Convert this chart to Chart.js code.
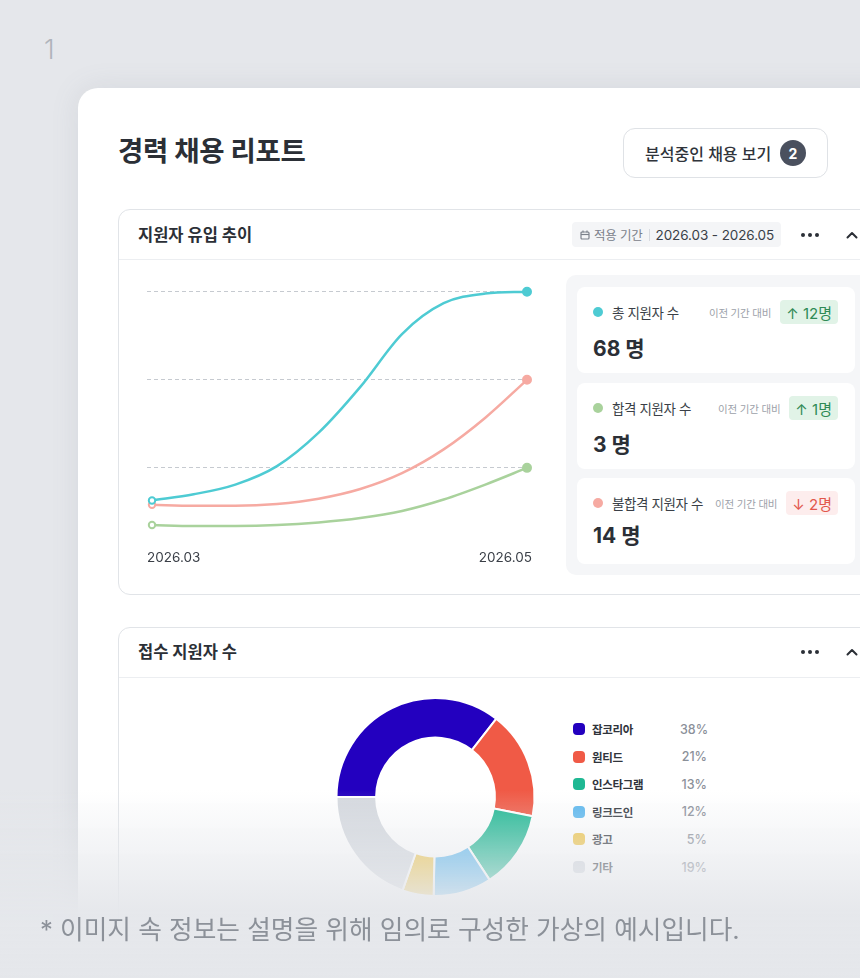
<!DOCTYPE html>
<html><head><meta charset="utf-8">
<script src="https://cdn.jsdelivr.net/npm/chart.js@4.4.1/dist/chart.umd.min.js"></script>
<style>
*{box-sizing:border-box;margin:0;padding:0}
html,body{width:860px;height:978px;overflow:hidden;background:#e5e7eb;font-family:Inter,"Noto Sans CJK KR",sans-serif;color:#2f333a}
.a{position:absolute}
#num{left:44px;top:34px;font-size:27px;line-height:32px;color:#b0b4bb;font-weight:300}
#card{left:78px;top:88px;width:830px;height:960px;background:#fff;border-radius:20px;box-shadow:0 0 28px rgba(110,118,130,0.13)}
#title{left:118px;top:134px;font-size:27.5px;line-height:34px;font-weight:700;letter-spacing:-0.3px;color:#2b2f36}
#btn{left:623px;top:128px;width:205px;height:50px;border:1px solid #dfe2e6;border-radius:12px;display:flex;align-items:center;padding-left:21px}
#btn span.t{font-size:16px;font-weight:500;color:#30343b;letter-spacing:0}
#btn span.b{position:absolute;left:156px;top:11px;width:26px;height:26px;border-radius:13px;background:#4a505e;color:#fff;font-size:14px;font-weight:700;display:flex;align-items:center;justify-content:center}
.panel{border:1px solid #e1e4e8;border-radius:12px;background:#fff}
.ptitle{font-size:16.5px;line-height:20px;font-weight:700;letter-spacing:0;color:#2b2f36}
.div{height:1px;background:#eceef1}
.dots{width:20px;height:4px}
.dots i{position:absolute;top:0;width:4px;height:4px;border-radius:2px;background:#2b2f36}
#chip{left:572px;top:222px;width:209px;height:25px;background:#f4f5f7;border-radius:4px;display:flex;align-items:center;padding-left:8px;white-space:nowrap}
#chip .k{font-size:12.5px;color:#7b818b;margin-left:4px;letter-spacing:-0.2px}
#chip .s{width:1px;height:12px;background:#d7dae0;margin:0 6px 0 6px}
#chip .v{font-size:13.5px;color:#3a3f47;letter-spacing:-0.1px}
#stats{left:566px;top:275px;width:320px;height:300px;background:#f5f6f8;border-radius:10px}
.sc{left:577px;width:278px;height:86px;background:#fff;border-radius:8px}
.sc .row{position:absolute;left:15px;right:17px;top:13px;height:24px;display:flex;align-items:center;white-space:nowrap}
.sc .dot{width:10px;height:10px;border-radius:5px;margin-left:1px;margin-right:9px}
.sc .lab{font-size:13.5px;color:#3a3f47;letter-spacing:-0.4px}
.sc .cmp{margin-left:auto;font-size:10.5px;color:#9ca1a9;letter-spacing:-0.2px;margin-right:9px}
.sc .bd{height:24px;border-radius:4px;padding:0 6px;display:flex;align-items:center;font-size:15px;font-weight:400}
.sc .bd.up{background:#e1f3e7;color:#2f8a55}
.sc .bd.dn{background:#fdeded;color:#e2574b}
.sc .val{position:absolute;left:16px;top:49px;font-size:21px;line-height:26px;font-weight:700;color:#2b2f36}
.lg{left:573px;height:20px;display:flex;align-items:center;white-space:nowrap}
.lg .sq{width:12px;height:12px;border-radius:4px;margin-right:7px}
.lg .n{font-size:11.5px;font-weight:700;color:#30343b;width:88px;letter-spacing:-0.3px}
.lg .p{font-size:12.5px;font-weight:500;color:#8b9099;width:27px;text-align:right}
#fade{left:0;top:790px;width:860px;height:188px;z-index:10;background:linear-gradient(to bottom,rgba(229,231,235,0) 0%,rgba(229,231,235,0.72) 48%,rgba(229,231,235,0.96) 64%,rgba(229,231,235,1) 100%)}
#cap{left:40px;top:913px;z-index:11;font-size:25.7px;line-height:34px;color:#8c9199;white-space:nowrap;letter-spacing:0}
</style></head>
<body>
<div id="num" class="a">1</div>
<div id="card" class="a"></div>
<div id="title" class="a">경력 채용 리포트</div>
<div id="btn" class="a"><span class="t">분석중인 채용 보기</span><span class="b">2</span></div>

<div class="a panel" style="left:118px;top:209px;width:800px;height:386px"></div>
<div class="a ptitle" style="left:138px;top:225px">지원자 유입 추이</div>
<div class="a div" style="left:119px;top:259px;width:760px"></div>
<div id="chip" class="a">
  <svg width="10" height="10" viewBox="0 0 10 10"><rect x="1" y="2" width="8" height="7" rx="1" fill="none" stroke="#7b818b" stroke-width="1.2"/><line x1="1" y1="4.5" x2="9" y2="4.5" stroke="#7b818b" stroke-width="1.2"/><line x1="3" y1="0.5" x2="3" y2="2.5" stroke="#7b818b" stroke-width="1.2"/><line x1="7" y1="0.5" x2="7" y2="2.5" stroke="#7b818b" stroke-width="1.2"/></svg>
  <span class="k">적용 기간</span><span class="s"></span><span class="v">2026.03 - 2026.05</span>
</div>
<div class="a dots" style="left:801px;top:233px"><i style="left:0"></i><i style="left:7px"></i><i style="left:14px"></i></div>
<svg class="a" style="left:846px;top:231px" width="12" height="8" viewBox="0 0 12 8"><polyline points="1.5,6.5 6,2 10.5,6.5" fill="none" stroke="#2b2f36" stroke-width="2" stroke-linecap="round" stroke-linejoin="round"/></svg>

<div class="a" style="left:138px;top:265px;width:402px;height:301px"><canvas id="lineChart"></canvas></div>

<div id="stats" class="a"></div>
<div class="a sc" style="top:287px">
  <div class="row"><span class="dot" style="background:#4ecbd3"></span><span class="lab">총 지원자 수</span><span class="cmp">이전 기간 대비</span><span class="bd up">↑ 12명</span></div>
  <div class="val">68 명</div>
</div>
<div class="a sc" style="top:383px">
  <div class="row"><span class="dot" style="background:#a9d29c"></span><span class="lab">합격 지원자 수</span><span class="cmp">이전 기간 대비</span><span class="bd up">↑ 1명</span></div>
  <div class="val">3 명</div>
</div>
<div class="a sc" style="top:478px">
  <div class="row"><span class="dot" style="background:#f6aaa2"></span><span class="lab">불합격 지원자 수</span><span class="cmp">이전 기간 대비</span><span class="bd dn">↓ 2명</span></div>
  <div class="val" style="top:45px">14 명</div>
</div>

<div class="a panel" style="left:118px;top:627px;width:800px;height:420px"></div>
<div class="a ptitle" style="left:138px;top:642px">접수 지원자 수</div>
<div class="a div" style="left:119px;top:677px;width:760px"></div>
<div class="a dots" style="left:801px;top:650px"><i style="left:0"></i><i style="left:7px"></i><i style="left:14px"></i></div>
<svg class="a" style="left:846px;top:648px" width="12" height="8" viewBox="0 0 12 8"><polyline points="1.5,6.5 6,2 10.5,6.5" fill="none" stroke="#2b2f36" stroke-width="2" stroke-linecap="round" stroke-linejoin="round"/></svg>

<div class="a" style="left:330px;top:692px;width:211px;height:210px"><canvas id="donutChart"></canvas></div>
<div id="legend"></div>

<div id="fade" class="a"></div>
<div id="cap" class="a">* 이미지 속 정보는 설명을 위해 임의로 구성한 가상의 예시입니다.</div>

<script>
// ---- data ----
const periodLabels = ['2026.03', '2026.05'];
const sampleIndex = [0, 1, 2, 3, 4, 5, 6, 7, 8, 9];
const totalApplicants = [6.3, 7.0, 8.1, 10.2, 14.0, 19.2, 25.2, 28.7, 29.8, 30];
const rejectedApplicants = [5.8, 5.7, 5.7, 5.9, 6.5, 7.6, 9.4, 12.1, 15.7, 20];
const passedApplicants = [3.5, 3.4, 3.4, 3.5, 3.8, 4.3, 5.1, 6.4, 8.1, 10];
const gridValues = [10, 20, 30];

const sources = ['잡코리아', '원티드', '인스타그램', '링크드인', '광고', '기타'];
const sourceShares = [35.5, 17.6, 12.7, 9.5, 5.1, 19.6];
const sourcePctLabels = ['38%', '21%', '13%', '12%', '5%', '19%'];

// ---- styles ----
const FONT = 'Inter, "Noto Sans CJK KR", sans-serif';
const seriesColors = ['#4ecbd3', '#f6aaa2', '#a9d29c'];
const sourceColors = ['#2300bf', '#f05a46', '#1fb893', '#5cb8ef', '#f0c64a', '#d5d9df'];

function mk(values, color) {
  const last = values.length - 1;
  return {
    data: sampleIndex.map((x, i) => ({ x, y: values[i] })),
    borderColor: color,
    borderWidth: 2.5,
    cubicInterpolationMode: 'monotone',
    pointRadius: c => c.dataIndex === 0 ? 3.2 : (c.dataIndex === last ? 4 : 0),
    pointBorderWidth: 2,
    pointBorderColor: color,
    pointBackgroundColor: c => c.dataIndex === 0 ? '#ffffff' : color,
    clip: false
  };
}

new Chart(document.getElementById('lineChart'), {
  type: 'line',
  data: { datasets: [mk(totalApplicants, seriesColors[0]), mk(rejectedApplicants, seriesColors[1]), mk(passedApplicants, seriesColors[2])] },
  options: {
    responsive: true, maintainAspectRatio: false, animation: false,
    layout: { padding: { top: 18, left: 9, right: 8, bottom: 0 } },
    plugins: { legend: { display: false }, tooltip: { enabled: false } },
    scales: {
      x: {
        type: 'linear', min: -0.12, max: 9.12,
        grid: { display: false }, border: { display: false },
        afterBuildTicks: s => { s.ticks = [{ value: -0.12 }, { value: 9.12 }]; },
        ticks: { align: 'inner', padding: 0, color: '#3a3f47', maxRotation: 0, autoSkip: false,
          font: { size: 13.5, family: FONT }, callback: (v, i) => periodLabels[i] }
      },
      y: {
        min: 1.6, max: 31,
        afterBuildTicks: s => { s.ticks = gridValues.map(v => ({ value: v })); },
        ticks: { display: false },
        grid: { color: '#c6cad0', lineWidth: 1, drawTicks: false },
        border: { display: false, dash: [4, 3] }
      }
    }
  }
});

new Chart(document.getElementById('donutChart'), {
  type: 'doughnut',
  data: { labels: sources, datasets: [{ data: sourceShares, backgroundColor: sourceColors, borderColor: '#ffffff', borderWidth: 2 }] },
  options: {
    responsive: true, maintainAspectRatio: false, animation: false,
    rotation: -90, cutout: '60%',
    layout: { padding: 5 },
    plugins: { legend: { display: false }, tooltip: { enabled: false } }
  }
});

const lg = document.getElementById('legend');
const rowCenters0 = 729, rowStep = 27.6;
sources.forEach((s, i) => {
  const d = document.createElement('div');
  d.className = 'a lg';
  d.style.top = (rowCenters0 + i * rowStep - 10) + 'px';
  d.innerHTML = '<span class="sq" style="background:' + sourceColors[i] + '"></span><span class="n">' + s + '</span><span class="p">' + sourcePctLabels[i] + '</span>';
  lg.appendChild(d);
});
</script>
</body></html>
